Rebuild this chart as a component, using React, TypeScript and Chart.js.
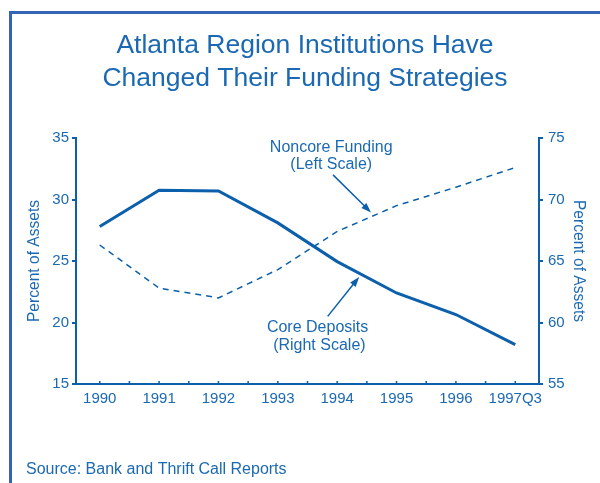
import React, { useEffect, useRef } from "react";
import { Chart, registerables } from "chart.js";

Chart.register(...registerables);

const categories = ["1990", "1991", "1992", "1993", "1994", "1995", "1996", "1997Q3"];
const noncoreFunding = [26.3, 22.8, 22.0, 24.3, 27.4, 29.5, 31.0, 32.6]; // left scale
const coreDeposits = [67.8, 70.75, 70.7, 68.1, 64.95, 62.4, 60.65, 58.2]; // right scale
const leftTicks = [15, 20, 25, 30, 35];
const rightTicks = [55, 60, 65, 70, 75];
const titleLines = ["Atlanta Region Institutions Have", "Changed Their Funding Strategies"];
const sourceText = "Source: Bank and Thrift Call Reports";
const noncoreLabel = ["Noncore Funding", "(Left Scale)"];
const coreLabel = ["Core Deposits", "(Right Scale)"];

const TEXT = "#1b69b2";
const LINE = "#0b5fab";
const FONT = "'Liberation Sans', Arial, sans-serif";

function arrow(ctx: CanvasRenderingContext2D, x1: number, y1: number, x2: number, y2: number) {
  const ang = Math.atan2(y2 - y1, x2 - x1);
  const len = 10;
  const hw = 3.5;
  ctx.save();
  ctx.strokeStyle = LINE;
  ctx.fillStyle = LINE;
  ctx.lineWidth = 1.5;
  ctx.beginPath();
  ctx.moveTo(x1, y1);
  ctx.lineTo(x2 - Math.cos(ang) * len * 0.8, y2 - Math.sin(ang) * len * 0.8);
  ctx.stroke();
  ctx.beginPath();
  ctx.moveTo(x2, y2);
  ctx.lineTo(x2 - Math.cos(ang) * len - Math.sin(ang) * hw, y2 - Math.sin(ang) * len + Math.cos(ang) * hw);
  ctx.lineTo(x2 - Math.cos(ang) * len + Math.sin(ang) * hw, y2 - Math.sin(ang) * len - Math.cos(ang) * hw);
  ctx.closePath();
  ctx.fill();
  ctx.restore();
}

const decorPlugin = {
  id: "decor",
  afterDraw(chart: any) {
    const ctx: CanvasRenderingContext2D = chart.ctx;
    const x = chart.scales.x;
    const yL = chart.scales.yL;
    const yR = chart.scales.yR;
    ctx.save();
    // frame
    ctx.strokeStyle = "#3563b6";
    ctx.lineWidth = 3;
    ctx.beginPath();
    ctx.moveTo(10.5, 500);
    ctx.lineTo(10.5, 12.5);
    ctx.lineTo(620, 12.5);
    ctx.stroke();

    // title
    ctx.fillStyle = TEXT;
    ctx.textAlign = "center";
    ctx.textBaseline = "alphabetic";
    ctx.font = `26.5px ${FONT}`;
    ctx.fillText(titleLines[0], 305, 53);
    ctx.fillText(titleLines[1], 305, 86);

    // source
    ctx.textAlign = "left";
    ctx.font = `16px ${FONT}`;
    ctx.fillText(sourceText, 26, 474);

    // inner x ticks at half steps
    ctx.strokeStyle = LINE;
    ctx.lineWidth = 1.5;
    const yb = x.top;
    for (let i = 0; i <= (categories.length - 1) * 2; i++) {
      const px = x.getPixelForValue(i / 2);
      ctx.beginPath();
      ctx.moveTo(px, yb);
      ctx.lineTo(px, yb - 3);
      ctx.stroke();
    }

    // annotations
    ctx.textAlign = "center";
    ctx.font = `16px ${FONT}`;
    ctx.fillStyle = TEXT;
    ctx.fillText(noncoreLabel[0], x.getPixelForValue(3.9), yL.getPixelForValue(33.85));
    ctx.fillText(noncoreLabel[1], x.getPixelForValue(3.9), yL.getPixelForValue(32.5));
    ctx.fillText(coreLabel[0], x.getPixelForValue(3.67), yR.getPixelForValue(59.2));
    ctx.fillText(coreLabel[1], x.getPixelForValue(3.7), yR.getPixelForValue(57.8));

    arrow(ctx, x.getPixelForValue(3.93), yL.getPixelForValue(32.0), x.getPixelForValue(4.57), yL.getPixelForValue(28.95));
    arrow(ctx, x.getPixelForValue(3.84), yR.getPixelForValue(60.5), x.getPixelForValue(4.37), yR.getPixelForValue(63.7));
    ctx.restore();
  },
};

export default function App() {
  const ref = useRef<HTMLCanvasElement | null>(null);
  useEffect(() => {
    document.body.style.margin = "0";
    if (!ref.current) return;
    const chart = new Chart(ref.current, {
      type: "line",
      data: {
        datasets: [
          {
            label: "Noncore Funding",
            data: noncoreFunding.map((v, i) => ({ x: i, y: v })),
            yAxisID: "yL",
            borderColor: LINE,
            borderWidth: 1.5,
            borderDash: [6, 5],
            pointRadius: 0,
            tension: 0,
            fill: false,
          },
          {
            label: "Core Deposits",
            data: coreDeposits.map((v, i) => ({ x: i, y: v })),
            yAxisID: "yR",
            borderColor: LINE,
            borderWidth: 3,
            pointRadius: 0,
            tension: 0,
            fill: false,
          },
        ],
      },
      options: {
        responsive: false,
        animation: false,
        layout: { padding: { top: 138, left: 0, right: 0, bottom: 0 } },
        plugins: { legend: { display: false }, tooltip: { enabled: false }, title: { display: false } },
        scales: {
          x: {
            type: "linear",
            min: -0.4,
            max: categories.length - 1 + 0.4,
            afterBuildTicks: (s: any) => {
              s.ticks = categories.map((_, i) => ({ value: i }));
            },
            afterFit: (s: any) => {
              s.height = 99;
            },
            grid: { display: true, drawOnChartArea: false, drawTicks: false },
            border: { display: true, color: LINE, width: 2 },
            ticks: {
              autoSkip: false,
              maxRotation: 0,
              padding: 6,
              color: TEXT,
              font: { family: FONT, size: 15 },
              callback: (v: any) => categories[v] ?? "",
            },
          },
          yL: {
            type: "linear",
            position: "left",
            min: leftTicks[0],
            max: leftTicks[leftTicks.length - 1],
            afterBuildTicks: (s: any) => {
              s.ticks = leftTicks.map((v) => ({ value: v }));
            },
            afterFit: (s: any) => {
              s.width = 76;
            },
            grid: { drawOnChartArea: false, drawTicks: true, tickLength: 4, color: LINE, lineWidth: 2 },
            border: { display: true, color: LINE, width: 2 },
            ticks: { padding: 3, color: TEXT, font: { family: FONT, size: 15 } },
            title: {
              display: true,
              text: "Percent of Assets",
              color: TEXT,
              font: { family: FONT, size: 15.6 },
              padding: { top: 25, bottom: 0 },
            },
          },
          yR: {
            type: "linear",
            position: "right",
            min: rightTicks[0],
            max: rightTicks[rightTicks.length - 1],
            afterBuildTicks: (s: any) => {
              s.ticks = rightTicks.map((v) => ({ value: v }));
            },
            afterFit: (s: any) => {
              s.width = 61;
            },
            grid: { drawOnChartArea: false, drawTicks: true, tickLength: 4, color: LINE, lineWidth: 2 },
            border: { display: true, color: LINE, width: 2 },
            ticks: { padding: 5, color: TEXT, font: { family: FONT, size: 15 } },
            title: {
              display: true,
              text: "Percent of Assets",
              color: TEXT,
              font: { family: FONT, size: 15.6 },
              padding: { top: 12, bottom: 0 },
            },
          },
        },
      },
      plugins: [decorPlugin],
    } as any);
    return () => chart.destroy();
  }, []);
  return (
    <div style={{ width: 600, height: 483 }}>
      <canvas ref={ref} width={600} height={483} style={{ display: "block" }} />
    </div>
  );
}
